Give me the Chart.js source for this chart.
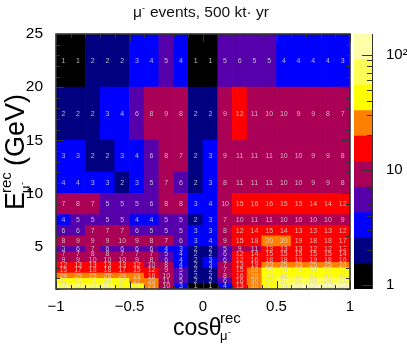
<!DOCTYPE html>
<html><head><meta charset="utf-8">
<script src="https://cdn.jsdelivr.net/npm/chart.js@4"></script>
<style>html,body{margin:0;padding:0;background:#fff}canvas{position:absolute;left:0;top:0}</style>
</head><body>
<canvas id="c1" width="407" height="344"></canvas>
<canvas id="c2" width="407" height="344"></canvas>
<script>
const cosBins=["-0.95","-0.85","-0.75","-0.65","-0.55","-0.45","-0.35","-0.25","-0.15","-0.05","0.05","0.15","0.25","0.35","0.45","0.55","0.65","0.75","0.85","0.95"];
const energyEdges=[1,1.5,2,2.5,3,3.5,4,4.5,5,6,7,8,10,12,15,20,25];
const e1=[76,72,69,61,49,35,23,10,3,1,1,4,13,30,51,74,93,107,113,114];
const e2=[41,41,41,39,34,27,20,11,5,2,2,6,16,30,44,57,66,69,68,71];
const e3=[24,25,25,25,24,21,16,10,5,2,2,8,16,28,39,46,47,47,47,46];
const e4=[15,17,18,18,17,15,12,9,5,2,2,7.3,15,26,35,34,34,34,33,33];
const e5=[12,13,13,13,13,12,10,8,4,2,3,7.3,13,19,23,25,25,25,25,24];
const e6=[9,9,10,10,10,9,8,6,4,2,3,6,12,16,18,18,19,19,18,16];
const e7=[7.3,7.3,8,8,7.3,7.3,7.3,5,4,2,2,6,12,14,15,15,15,15,15,14];
const e8=[5,6,7.3,6,6,6,6,4,3,2,2,5,9,11,13,13,13,12,12,12];
const e9=[8,9,9,9,10,9,8,7.3,6,3,4,9,15,18,20,20,19,18,18,17];
const e10=[6,6,7.3,7.3,7.3,6,5,5,5,3,3,8,12,14,15,14,13,13,13,12];
const e11=[4,5,5,5,5,4,4,5,5,2,3,7.3,10,11,11,10,10,10,10,9];
const e12=[7.3,8,7.3,5,5,5,6,8,8,3,4,10,15,16,16,15,15,14,14,12];
const e13=[4,4,3,3,2,3,5,7.3,6,2,3,8,11,11,11,10,10,9,9,8];
const e14=[3,3,2,2,3,4,6,8,7.3,2,3,9,11,11,11,10,10,9,9,8];
const e15=[2,2,2,3,4,6,8,9,8,2,2,9,12,11,10,10,9,9,8,7.3];
const e16=[1,1,2,2,2,3,4,5,4,1,1,5,6,5,5,4,4,4,4,3];
const energyRows=[e1,e2,e3,e4,e5,e6,e7,e8,e9,e10,e11,e12,e13,e14,e15,e16];
const palette=["#000000","#000080","#0000ff","#5500aa","#aa0055","#ff0000","#ff8000","#ffff00","#ffff55","#ffffaa"];
const levels=[0.92,1.53,2.55,4.25,7.08,11.8,19.7,32.8,54.6,91,152];
const xTicks=[-1,-0.5,0,0.5,1];
const zMajor=[1,10,100];

Chart.defaults.font.family="'Liberation Sans',Arial,sans-serif";
Chart.defaults.color="#000";
const colorOf=v=>{for(let i=palette.length-1;i>=0;i--){if(v>=levels[i])return palette[i];}return palette[0];};
const FRAME="#333";

const framePlugin={id:'frame',afterDatasetsDraw(ch){
  const g=ch.ctx,a=ch.chartArea,xs=ch.scales.x2,ys=ch.scales.y;
  g.save();
  g.font="7px 'Liberation Sans',Arial,sans-serif";g.textAlign='center';g.textBaseline='middle';g.fillStyle='rgba(215,215,215,.85)';
  ch.data.datasets.forEach((d,i)=>{ch.getDatasetMeta(i).data.forEach((el,j)=>{
    const p=el.getProps(['x','y','base'],true);
    g.fillText(String(Math.round(energyRows[i][j])),p.x,(p.y+p.base)/2);
  });});
  g.strokeStyle=FRAME;g.lineWidth=1;
  g.beginPath();
  for(let k=-10;k<=10;k++){
    const x=Math.round(xs.getPixelForValue(k/10))+.5,l=(k%5===0)?8:4;
    g.moveTo(x,a.bottom);g.lineTo(x,a.bottom-l);g.moveTo(x,a.top);g.lineTo(x,a.top+l);
  }
  for(let v=1;v<=25;v++){
    const y=Math.round(ys.getPixelForValue(v))+.5,l=(v%5===0)?8:4;
    g.moveTo(a.left,y);g.lineTo(a.left+l,y);g.moveTo(a.right,y);g.lineTo(a.right-l,y);
  }
  g.stroke();
  g.lineWidth=1.6;g.strokeRect(a.left,a.top,a.right-a.left,a.bottom-a.top);
  // titles
  g.fillStyle='#111';g.textBaseline='alphabetic';g.textAlign='left';
  g.font="15.5px 'Liberation Sans',Arial,sans-serif";
  g.fillText('μ',133,17);
  g.font="9px 'Liberation Sans',Arial,sans-serif";g.fillText('-',142,11);
  g.font="15.5px 'Liberation Sans',Arial,sans-serif";g.fillText('events, 500 kt· yr',150,17);
  g.fillStyle='#000';
  g.font="23px 'Liberation Sans',Arial,sans-serif";g.fillText('cosθ',173,335);
  g.font="15px 'Liberation Sans',Arial,sans-serif";g.fillText('rec',220,323);
  g.font="13px 'Liberation Sans',Arial,sans-serif";g.fillText('μ',220,340);
  g.font="9px 'Liberation Sans',Arial,sans-serif";g.fillText('-',228,335);
  g.save();g.translate(24,210);g.rotate(-Math.PI/2);
  g.font="27px 'Liberation Sans',Arial,sans-serif";g.fillText('E',0,0);
  g.font="15px 'Liberation Sans',Arial,sans-serif";g.fillText('rec',17,-13);
  g.font="13px 'Liberation Sans',Arial,sans-serif";g.fillText('μ',17,6);
  g.font="9px 'Liberation Sans',Arial,sans-serif";g.fillText('-',25,1);
  g.font="27px 'Liberation Sans',Arial,sans-serif";g.fillText('(GeV)',44,0);
  g.restore();
  g.restore();
}};

new Chart(document.getElementById('c1'),{
  type:'bar',
  data:{labels:cosBins,datasets:energyRows.map((row,i)=>({
    label:'E '+energyEdges[i]+'-'+energyEdges[i+1],
    data:row.map(()=>[energyEdges[i],energyEdges[i+1]]),
    backgroundColor:row.map(colorOf),
    grouped:false,categoryPercentage:1,barPercentage:1,borderWidth:0
  }))},
  options:{responsive:false,animation:false,
    layout:{padding:{top:34,right:57,left:0,bottom:0}},
    plugins:{legend:{display:false},tooltip:{enabled:false},title:{display:false}},
    scales:{
      x:{type:'category',display:false},
      x2:{type:'linear',position:'bottom',min:-1,max:1,offset:false,
        afterBuildTicks(s){s.ticks=xTicks.map(v=>({value:v}));},
        afterFit(s){s.height=55;},
        grid:{display:false,offset:false},border:{display:false},
        ticks:{maxRotation:0,padding:1,font:{size:15},callback:v=>(v<0?'−':'')+Math.abs(v)}},
      y:{type:'linear',min:1,max:25,
        afterFit(s){s.width=56;},
        grid:{display:false},border:{display:false},
        ticks:{stepSize:5,padding:5,font:{size:15.5},callback:v=>(v%5===0?String(v):'')},
        afterBuildTicks(s){s.ticks=[5,10,15,20,25].map(v=>({value:v}));}}
    }
  },
  plugins:[framePlugin]
});

const barPlugin={id:'bar',afterDatasetsDraw(ch){
  const g=ch.ctx,a=ch.chartArea,ys=ch.scales.y;
  g.save();g.strokeStyle=FRAME;g.lineWidth=1;g.beginPath();
  [1,10,100].forEach(dec=>{for(let m=1;m<10;m++){
    const v=dec*m;if(v>152)return;
    const y=Math.round(ys.getPixelForValue(v))+.5,l=(m===1)?10:5;
    g.moveTo(a.right,y);g.lineTo(a.right-l,y);
  }});
  g.moveTo(a.right+.5,a.top);g.lineTo(a.right+.5,a.bottom);
  g.stroke();g.restore();
}};
new Chart(document.getElementById('c2'),{
  type:'bar',
  data:{labels:['z'],datasets:palette.map((c,i)=>({
    label:'level '+i,data:[[levels[i],levels[i+1]]],backgroundColor:c,
    grouped:false,categoryPercentage:1,barPercentage:1,borderWidth:0}))},
  options:{responsive:false,animation:false,
    layout:{padding:{top:34,right:0,left:354,bottom:55}},
    plugins:{legend:{display:false},tooltip:{enabled:false}},
    scales:{
      x:{display:false},
      y:{type:'logarithmic',position:'right',min:0.92,max:152,
        afterFit(s){s.width=35;},
        afterBuildTicks(s){s.ticks=zMajor.map(v=>({value:v}));},
        grid:{display:false},border:{display:false},
        ticks:{padding:6,font:{size:15},autoSkip:false,callback:v=>v===100?'10²':String(v)}}
    }
  },
  plugins:[barPlugin]
});
</script>
</body></html>
